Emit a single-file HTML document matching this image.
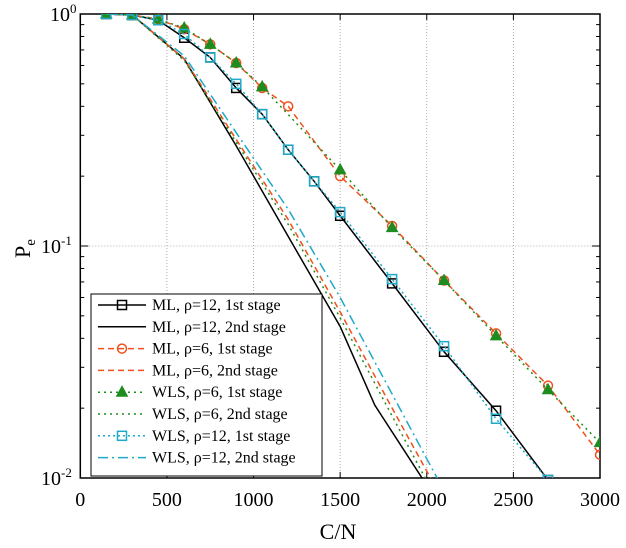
<!DOCTYPE html>
<html><head><meta charset="utf-8"><style>
body{margin:0;background:#fff}
svg{display:block;font-family:"Liberation Serif",serif}
</style></head><body>
<svg id="c" width="626" height="548"></svg>
<script>
const xTicks=[0,500,1000,1500,2000,2500,3000];
const xML12a=[150,300,450,600,750,900,1050,1200,1350,1500,1800,2100,2400,2700];
const yML12a=[1,0.99,0.94,0.79,0.65,0.48,0.37,0.26,0.19,0.135,0.069,0.035,0.0195,0.0098];
const xML12b=[150,300,600,900,1200,1500,1700,2000];
const yML12b=[1,0.99,0.64,0.27,0.11,0.045,0.0206,0.0093];
const xML6a=[150,300,450,600,750,900,1050,1200,1500,1800,2100,2400,2700,3000];
const yML6a=[1,0.99,0.95,0.86,0.74,0.615,0.48,0.40,0.2,0.122,0.071,0.042,0.025,0.0126];
const xML6b=[150,300,600,900,1200,1500,1800,2000,2100];
const yML6b=[1,0.99,0.64,0.288,0.13,0.052,0.020,0.0107,0.0078];
const xWLS6a=[150,300,450,600,750,900,1050,1500,1800,2100,2400,2700,3000];
const yWLS6a=[1,0.99,0.95,0.87,0.74,0.615,0.485,0.213,0.12,0.071,0.041,0.024,0.0142];
const xWLS6b=[150,300,600,900,1200,1500,1800,2000];
const yWLS6b=[1,0.99,0.63,0.28,0.124,0.049,0.0185,0.0097];
const xWLS12a=[150,300,450,600,750,900,1050,1200,1350,1500,1800,2100,2400,2700];
const yWLS12a=[1,0.99,0.94,0.82,0.65,0.5,0.37,0.26,0.19,0.14,0.072,0.037,0.018,0.0098];
const xWLS12b=[150,300,600,900,1200,1500,1800,2000,2100];
const yWLS12b=[1,0.99,0.66,0.308,0.144,0.060,0.023,0.0121,0.0088];
const labels=["ML, ρ=12, 1st stage","ML, ρ=12, 2nd stage","ML, ρ=6, 1st stage","ML, ρ=6, 2nd stage","WLS, ρ=6, 1st stage","WLS, ρ=6, 2nd stage","WLS, ρ=12, 1st stage","WLS, ρ=12, 2nd stage"];

const L=80.3,R=600,T=14,B=478;
const X=v=>L+(v/3000)*(R-L);
const Y=v=>T+(-Math.log10(v))/2*(B-T);
const NS="http://www.w3.org/2000/svg";
const svg=document.getElementById('c');
function mk(tag,at,parent){const e=document.createElementNS(NS,tag);for(const k in at)e.setAttribute(k,at[k]);(parent||svg).appendChild(e);return e;}
const defs=mk('defs',{});
const cp=mk('clipPath',{id:'clip'},defs);mk('rect',{x:L,y:T,width:R-L,height:B-T},cp);

const grid=mk('g',{});


xTicks.slice(1,-1).forEach(t=>mk('line',{x1:X(t),x2:X(t),y1:T,y2:B,stroke:'#999','stroke-width':0.8,'stroke-dasharray':'1,2'},grid));
mk('line',{x1:L,x2:R,y1:Y(0.1),y2:Y(0.1),stroke:'#999','stroke-width':0.8,'stroke-dasharray':'1,2'},grid);

const ax=mk('g',{});


xTicks.forEach(t=>{
 mk('line',{x1:X(t),x2:X(t),y1:B,y2:B-6,stroke:'#000'},ax);
 mk('line',{x1:X(t),x2:X(t),y1:T,y2:T+6,stroke:'#000'},ax);
 const tx=mk('text',{x:X(t),y:506,'text-anchor':'middle','font-size':20},ax);tx.textContent=t;
 
 
});
for(let d=0;d<2;d++){for(let m=2;m<=9;m++){const v=Math.pow(10,-d-1)*m;
 mk('line',{x1:L,x2:L+4,y1:Y(v),y2:Y(v),stroke:'#000'},ax);
 mk('line',{x1:R,x2:R-4,y1:Y(v),y2:Y(v),stroke:'#000'},ax);}}
[0,-1,-2].forEach(e=>{const y=Y(Math.pow(10,e));
 mk('line',{x1:L,x2:L+8,y1:y,y2:y,stroke:'#000'},ax);
 mk('line',{x1:R,x2:R-8,y1:y,y2:y,stroke:'#000'},ax);
 const t=mk('text',{x:e===0?50:41,y:y+7,'font-size':20},ax);
 
 
 t.innerHTML='10<tspan dy="-8" font-size="13">'+e+'</tspan>';});
mk('rect',{x:L,y:T,width:R-L,height:B-T,fill:'none',stroke:'#000','stroke-width':1.5},ax);
const xl=mk('text',{x:338,y:539,'text-anchor':'middle','font-size':22});xl.textContent='C/N';


const yl=mk('text',{transform:'translate(30,258) rotate(-90)','font-size':22});


yl.innerHTML='P<tspan dy="5" font-size="15">e</tspan>';

const series=[
 {xs:xML12a,ys:yML12a,c:'#000',d:'',m:'sq',n:'ml-rho12-1st'},
 {xs:xML12b,ys:yML12b,c:'#000',d:'',m:'',n:'ml-rho12-2nd'},
 {xs:xML6a,ys:yML6a,c:'#f0501e',d:'6,4',m:'ci',n:'ml-rho6-1st'},
 {xs:xML6b,ys:yML6b,c:'#f0501e',d:'6,4',m:'',n:'ml-rho6-2nd'},
 {xs:xWLS6a,ys:yWLS6a,c:'#1e8c1e',d:'2,4',m:'tr',n:'wls-rho6-1st'},
 {xs:xWLS6b,ys:yWLS6b,c:'#1e8c1e',d:'2,4',m:'',n:'wls-rho6-2nd'},
 {xs:xWLS12a,ys:yWLS12a,c:'#1eaac8',d:'2,3',m:'sq',n:'wls-rho12-1st'},
 {xs:xWLS12b,ys:yWLS12b,c:'#1eaac8',d:'10,4,2,4',m:'',n:'wls-rho12-2nd'}];
function marker(g,m,x,y,c){
 if(m==='sq')mk('rect',{x:x-4.5,y:y-4.5,width:9,height:9,fill:'none',stroke:c,'stroke-width':1.5},g);
 else if(m==='ci')mk('circle',{cx:x,cy:y,r:4.5,fill:'none',stroke:c,'stroke-width':1.5},g);
 else if(m==='tr')mk('polygon',{points:`${x},${y-6} ${x-5.5},${y+4} ${x+5.5},${y+4}`,fill:c,stroke:c},g);
}
const plot=mk('g',{'clip-path':'url(#clip)'});
series.forEach(s=>{
 const g=mk('g',{},plot);
 
 
 mk('polyline',{points:s.xs.map((v,i)=>X(v)+','+Y(s.ys[i])).join(' '),fill:'none',stroke:s.c,'stroke-width':1.5,'stroke-dasharray':s.d},g);
 if(s.m)s.xs.forEach((v,i)=>marker(g,s.m,X(v),Y(s.ys[i]),s.c));
});

const lg=mk('g',{});


mk('rect',{x:91,y:294,width:231,height:182,fill:'#fff',stroke:'#000','stroke-width':1},lg);
series.forEach((s,i)=>{
 const y=305+i*21.8;
 const e=mk('g',{},lg);
 
 
 mk('line',{x1:98,x2:146,y1:y,y2:y,stroke:s.c,'stroke-width':1.5,'stroke-dasharray':s.d},e);
 if(s.m)marker(e,s.m,122,y,s.c);
 const t=mk('text',{x:152,y:y+5,'font-size':16},e);t.textContent=labels[i];
});
</script>
</body></html>
